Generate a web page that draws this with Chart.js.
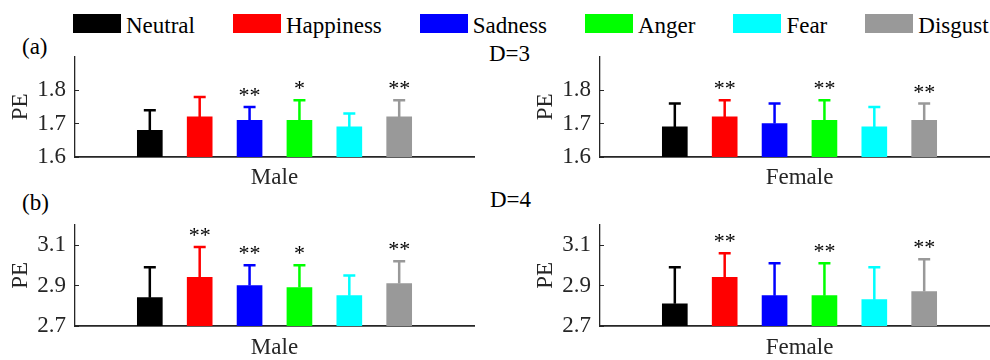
<!DOCTYPE html>
<html>
<head>
<meta charset="utf-8">
<script src="https://cdn.jsdelivr.net/npm/chart.js@4/dist/chart.umd.min.js"></script>
<style>
  body { margin: 0; width: 990px; height: 360px; overflow: hidden; position: relative; background: #fff;
         font-family: "Liberation Serif", serif; color: #000; }
  canvas { position: absolute; }
  .lbl { position: absolute; font-size: 23px; line-height: 23px; white-space: nowrap; color: #000; }
  #legend { position: absolute; left: 73px; top: 14px; display: flex; gap: 38px; }
  .item { display: flex; align-items: flex-start; font-size: 23px; line-height: 23px; }
  .box { width: 48px; height: 19px; margin-right: 5px; }
</style>
</head>
<body>
<div id="legend"></div>
<div class="lbl" style="left:22px; top:35px;">(a)</div>
<div class="lbl" style="left:489px; top:42px;">D=3</div>
<div class="lbl" style="left:22px; top:191px;">(b)</div>
<div class="lbl" style="left:490px; top:188px;">D=4</div>
<canvas id="c1" width="500" height="162" style="left:0; top:30px;"></canvas>
<canvas id="c2" width="485" height="162" style="left:525px; top:30px;"></canvas>
<canvas id="c3" width="500" height="164" style="left:0; top:198px;"></canvas>
<canvas id="c4" width="485" height="164" style="left:525px; top:198px;"></canvas>
<script>
// emotions and their colours
const emotions = ['Neutral', 'Happiness', 'Sadness', 'Anger', 'Fear', 'Disgust'];
const colors = ['#000000', '#ff0000', '#0000ff', '#00ff00', '#00ffff', '#999999'];

// D=3, mean PE and SD
const maleD3 = [1.68, 1.72, 1.71, 1.71, 1.69, 1.72];
const maleD3Sd = [0.06, 0.06, 0.04, 0.06, 0.04, 0.05];
const maleD3Sig = ['', '', '**', '*', '', '**'];
const femaleD3 = [1.69, 1.72, 1.70, 1.71, 1.69, 1.71];
const femaleD3Sd = [0.07, 0.05, 0.06, 0.06, 0.06, 0.05];
const femaleD3Sig = ['', '**', '', '**', '', '**'];

// D=4
const maleD4 = [2.84, 2.94, 2.90, 2.89, 2.85, 2.91];
const maleD4Sd = [0.15, 0.15, 0.10, 0.11, 0.10, 0.11];
const maleD4Sig = ['', '**', '**', '*', '', '**'];
const femaleD4 = [2.81, 2.94, 2.85, 2.85, 2.83, 2.87];
const femaleD4Sd = [0.18, 0.12, 0.16, 0.16, 0.16, 0.16];
const femaleD4Sig = ['', '**', '', '**', '', '**'];

// axis ranges and tick labels
const rangeD3 = [1.6, 1.9];
const ticksD3 = [1.6, 1.7, 1.8];
const rangeD4 = [2.7, 3.2];
const ticksD4 = [2.7, 2.9, 3.1];

const AX = '#262626';
const SERIF = 'Liberation Serif';
Chart.defaults.font.family = SERIF;

// legend
const legend = document.getElementById('legend');
emotions.forEach((name, i) => {
    const it = document.createElement('div');
    it.className = 'item';
    it.innerHTML = '<div class="box" style="background:' + colors[i] + '"></div><span>' + name + '</span>';
    legend.appendChild(it);
});

// error bars (upper only) + significance stars
const errorStars = {
    id: 'errorStars',
    afterDatasetsDraw(chart) {
        const ctx = chart.ctx;
        const yScale = chart.scales.y;
        chart.data.datasets.forEach((ds, di) => {
            const meta = chart.getDatasetMeta(di);
            meta.data.forEach((bar, i) => {
                const top = yScale.getPixelForValue(ds.data[i].y + ds.sd[i]);
                ctx.save();
                ctx.strokeStyle = colors[i];
                ctx.lineWidth = 2.5;
                ctx.beginPath();
                ctx.moveTo(bar.x, bar.y);
                ctx.lineTo(bar.x, top);
                ctx.moveTo(bar.x - 6, top);
                ctx.lineTo(bar.x + 6, top);
                ctx.stroke();
                if (ds.sig[i]) {
                    ctx.fillStyle = '#000';
                    ctx.font = '22px "' + SERIF + '"';
                    ctx.textAlign = 'center';
                    ctx.textBaseline = 'alphabetic';
                    ctx.fillText(ds.sig[i], bar.x, top - 5);
                }
                ctx.restore();
            });
        });
    }
};

function panel(id, means, sd, sig, range, ticks, xTitle, xHeight, padTop, padRight) {
    new Chart(document.getElementById(id), {
        type: 'bar',
        data: {
            datasets: [{
                data: means.map((v, i) => ({ x: i + 1, y: v })),
                sd: sd,
                sig: sig,
                backgroundColor: colors,
                borderWidth: 0,
                barThickness: 25
            }]
        },
        options: {
            responsive: false,
            animation: false,
            layout: { padding: { top: padTop, right: padRight, left: 0, bottom: 0 } },
            plugins: { legend: { display: false }, tooltip: { enabled: false } },
            scales: {
                x: {
                    type: 'linear',
                    min: 0,
                    max: emotions.length + 1,
                    grid: { display: false },
                    border: { display: true, color: AX, width: 1.8 },
                    ticks: { display: false },
                    title: { display: true, text: xTitle, color: AX, font: { family: SERIF, size: 23 }, padding: { top: 0, bottom: 0 } },
                    afterFit: s => { s.height = xHeight; }
                },
                y: {
                    min: range[0],
                    max: range[1],
                    afterBuildTicks: s => { s.ticks = ticks.map(v => ({ value: v })); },
                    grid: { display: true, drawOnChartArea: false, drawTicks: true, tickLength: -4, color: AX, lineWidth: 1 },
                    border: { display: true, color: AX, width: 1.3 },
                    ticks: { color: AX, padding: 13, font: { family: SERIF, size: 23 }, callback: v => v.toFixed(1) },
                    title: { display: true, text: 'PE', color: AX, font: { family: SERIF, size: 23 }, padding: { top: 7, bottom: 0 } },
                    afterFit: s => { s.width = 75; }
                }
            }
        },
        plugins: [errorStars]
    });
}

function drawAll() {
    panel('c1', maleD3, maleD3Sd, maleD3Sig, rangeD3, ticksD3, 'Male', 35, 11, 26);
    panel('c2', femaleD3, femaleD3Sd, femaleD3Sig, rangeD3, ticksD3, 'Female', 35, 11, 11);
    panel('c3', maleD4, maleD4Sd, maleD4Sig, rangeD4, ticksD4, 'Male', 36, 10, 26);
    panel('c4', femaleD4, femaleD4Sd, femaleD4Sig, rangeD4, ticksD4, 'Female', 36, 10, 11);
}

document.fonts.load('22px "Liberation Serif"').then(drawAll, drawAll);
</script>
</body>
</html>
